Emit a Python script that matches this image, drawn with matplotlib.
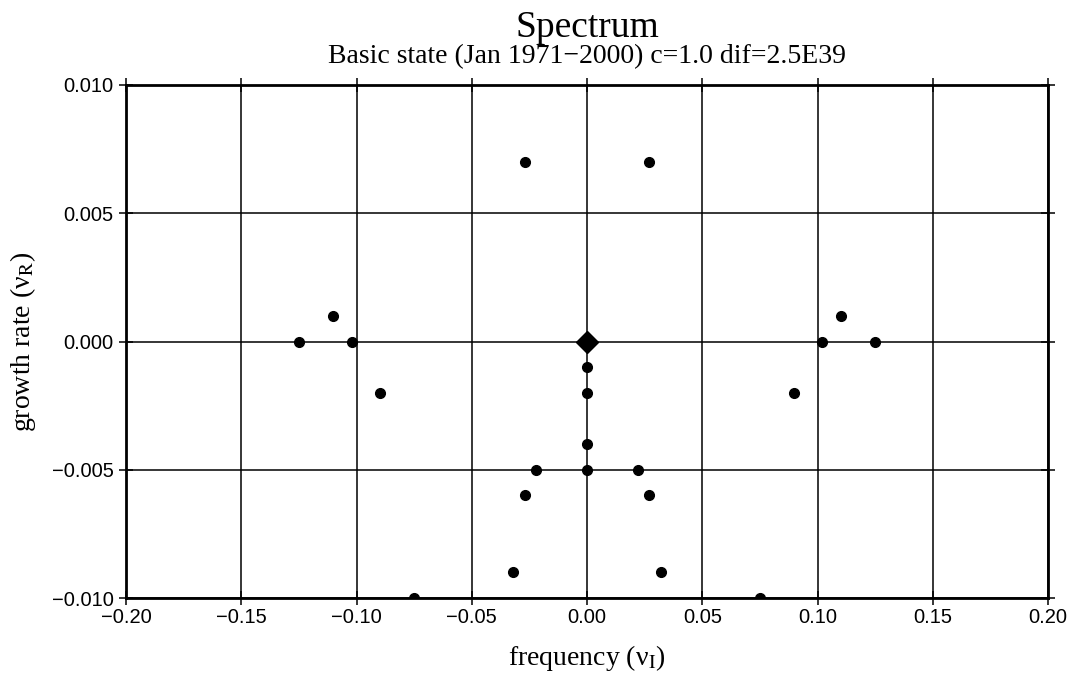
import numpy as np
import matplotlib
matplotlib.use('Agg')
import matplotlib.pyplot as plt

freq = [-0.027, 0.027, -0.110, -0.125, -0.102, -0.090,
        0.110, 0.102, 0.125, 0.090,
        0.0, 0.0, 0.0, 0.0,
        -0.022, 0.022, -0.027, 0.027, -0.032, 0.032,
        -0.075, 0.075]
growth = [0.007, 0.007, 0.001, 0.0, 0.0, -0.002,
          0.001, 0.0, 0.0, -0.002,
          -0.001, -0.002, -0.004, -0.005,
          -0.005, -0.005, -0.006, -0.006, -0.009, -0.009,
          -0.010, -0.010]
# estado basico (diamante)
basic_freq = [0.0]
basic_growth = [0.0]

xticks = [-0.20, -0.15, -0.10, -0.05, 0.0, 0.05, 0.10, 0.15, 0.20]
yticks = [-0.010, -0.005, 0.0, 0.005, 0.010]

plt.rcParams['mathtext.fontset'] = 'stix'
serif = 'Liberation Serif'
sans = 'Liberation Sans'


def fmt(v, nd):
    s = '%.*f' % (nd, abs(v))
    return ('\u2212' + s) if v < -1e-12 else s


fig = plt.figure(figsize=(10.75, 6.77), dpi=100)
ax = fig.add_axes([126/1075, 1-598/677, (1048-126)/1075, (598-85)/677])

ax.grid(True, color='black', linewidth=1.1)
ax.set_axisbelow(True)
ax.plot(freq, growth, 'o', color='black', markersize=7, zorder=3)
ax.plot(basic_freq, basic_growth, 'D', color='black', markersize=11, zorder=4)

ax.set_xlim(-0.2, 0.2)
ax.set_ylim(-0.010, 0.010)
ax.set_xticks(xticks)
ax.set_yticks(yticks)
ax.set_xticklabels([fmt(v, 2) for v in xticks], fontfamily=sans)
ax.set_yticklabels([fmt(v, 3) for v in yticks], fontfamily=sans)
ax.tick_params(direction='inout', length=10, width=1.1, labelsize=14.5,
               top=True, right=True)
ax.tick_params(axis='x', pad=2)
ax.tick_params(axis='y', pad=4)

for s in ax.spines.values():
    s.set_linewidth(2)

ax.set_xlabel('frequency (\u03bd$_{\\rm I}$)', fontfamily=serif, fontsize=20, labelpad=12)
ax.set_ylabel('growth rate (\u03bd$_{\\rm R}$)', fontfamily=serif, fontsize=20, labelpad=10)

fig.text(0.546, 1-28/677, 'Spectrum', ha='center', va='center',
         fontfamily=serif, fontsize=27)
fig.text(0.546, 1-57/677, 'Basic state (Jan 1971\u22122000) c=1.0 dif=2.5E39',
         ha='center', va='center', fontfamily=serif, fontsize=20)

fig.savefig('out.png', dpi=100)
